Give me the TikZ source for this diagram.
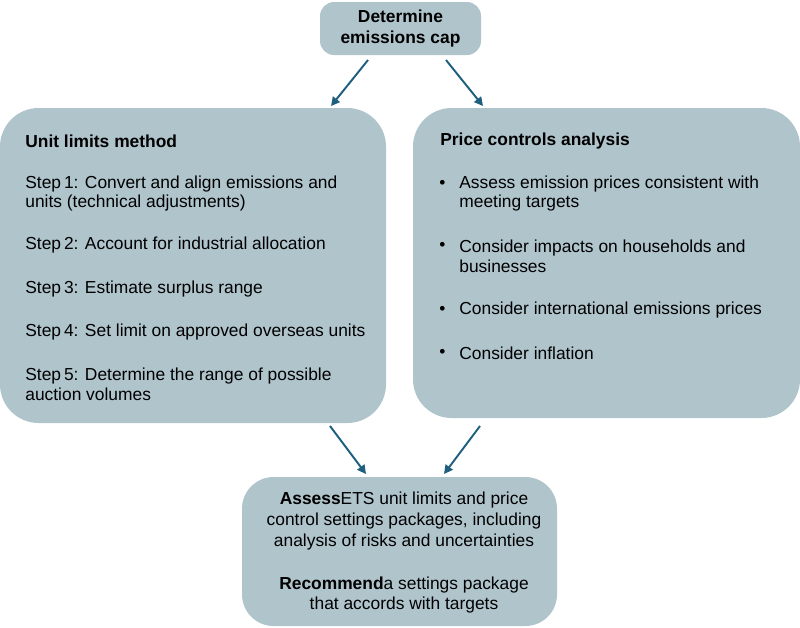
\documentclass[tikz,border=0pt]{standalone}
\usepackage{fontspec}
\setmainfont{Liberation Sans}
\usetikzlibrary{arrows.meta}
\definecolor{boxfill}{HTML}{B0C4CC}
\definecolor{arrowblue}{HTML}{1E5F80}

\tikzset{
  box/.style={draw=none, fill=boxfill, rounded corners=#1},
  txt/.style={anchor=west, align=left, inner sep=0pt, font=\fontsize{9.9}{11.2}\selectfont},
  ctxt/.style={anchor=center, align=center, inner sep=0pt, font=\fontsize{9.9}{11.9}\selectfont},
  flow/.style={-{Triangle[length=5pt,width=5pt]}, draw=arrowblue, line width=1.1pt}
}

\begin{document}
\begin{tikzpicture}[x=0.02cm, y=-0.02cm]
\useasboundingbox (0,0) rectangle (800,627);

% boxes
\fill[box=8pt] (320,2) rectangle (481,55);
\fill[box=22pt] (0,108) rectangle (386,423);
\fill[box=22pt] (413,108) rectangle (800,418);
\fill[box=18pt] (242,477) rectangle (557,626);

% top
\node[ctxt] (cap) at (400.5,28.5) {\textbf{Determine}\\\textbf{emissions cap}};

% left box
\node[txt] (unit) at (25,141) {\textbf{Unit limits method}};
\node[txt] (s1) at (25,193.5) {Step\,1: Convert and align emissions and\\units (technical adjustments)};
\node[txt] (s2) at (25,245) {Step\,2: Account for industrial allocation};
\node[txt] (s3) at (25,289) {Step\,3: Estimate surplus range};
\node[txt] (s4) at (25,332) {Step\,4: Set limit on approved overseas units};
\node[txt] (s5) at (25,384.5) {Step\,5: Determine the range of possible\\auction volumes};

% right box
\node[txt] (price) at (440,141) {\textbf{Price controls analysis}};
\foreach \yy in {184,246,310,353}
  \node[txt] at (439,\yy) {\textbullet};
\node[txt] (p1) at (459,193.5) {Assess emission prices consistent with\\meeting targets};
\node[txt] (p2) at (459,256) {Consider impacts on households and\\businesses};
\node[txt] (p3) at (459,310) {Consider international emissions prices};
\node[txt] (p4) at (459,353) {Consider inflation};

% bottom box
\node[ctxt] (assess) at (404,521) {\textbf{Assess}ETS unit limits and price\\control settings packages, including\\analysis of risks and uncertainties};
\node[ctxt] (recom) at (404,595) {\textbf{Recommend}a settings package\\that accords with targets};

% connectors
\coordinate (a1) at (368,60); \coordinate (b1) at (331,106);
\coordinate (a2) at (446,60); \coordinate (b2) at (483,106);
\coordinate (a3) at (330,426); \coordinate (b3) at (366,474);
\coordinate (a4) at (480,426); \coordinate (b4) at (444,474);
\draw[flow] (a1) -- (b1);
\draw[flow] (a2) -- (b2);
\draw[flow] (a3) -- (b3);
\draw[flow] (a4) -- (b4);
\end{tikzpicture}
\end{document}
